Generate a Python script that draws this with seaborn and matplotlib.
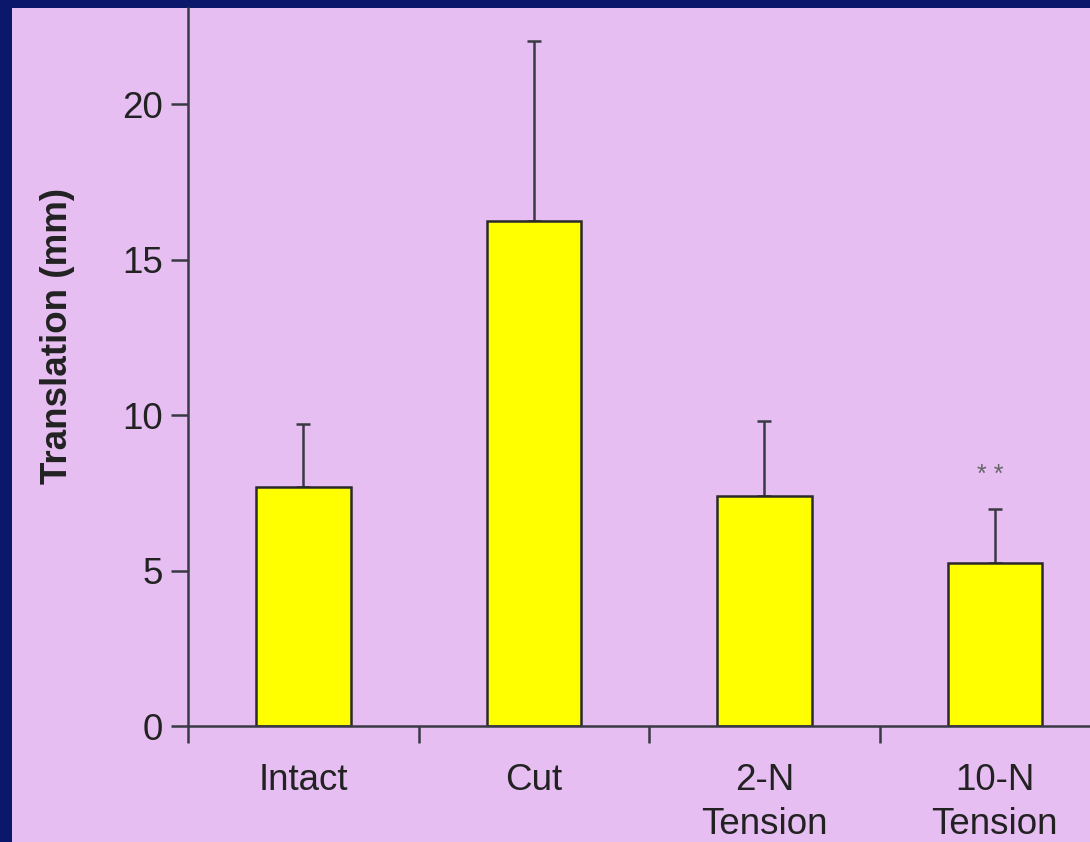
import matplotlib
matplotlib.use("Agg")
import matplotlib.pyplot as plt
import seaborn as sns
import pandas as pd
import numpy as np
from matplotlib.patches import Rectangle

categories = ["Intact", "Cut", "2-N\nTension", "10-N\nTension"]
means = [7.7, 16.25, 7.4, 5.25]
upper_err = [2.03, 5.8, 2.4, 1.73]
yticks = [0, 5, 10, 15, 20]
annotation = "* *"

sns.set_theme(style="ticks")
plt.rcParams['font.family'] = ['Liberation Sans', 'DejaVu Sans']

W, H = 1090, 842
fig = plt.figure(figsize=(W / 100, H / 100), dpi=100)
fig.patch.set_facecolor("#0a176a")
pink = "#e6bef2"
fig.add_artist(Rectangle((12 / W, 0), 1 - 12 / W, 1 - 8 / H, transform=fig.transFigure,
                         facecolor=pink, edgecolor="none", zorder=0))

ax = fig.add_axes([188 / W, 1 - 726 / H, (W - 188) / W, (726 - 8) / H])
ax.set_facecolor("none")

df = pd.DataFrame({"cat": categories, "val": means})
sns.barplot(data=df, x="cat", y="val", ax=ax, color="#ffff00", width=0.41,
            edgecolor="#2a2a2a", linewidth=1.8, saturation=1, errorbar=None)

x = np.arange(len(categories))
ax.errorbar(x, means, yerr=[np.zeros(len(means)), upper_err], fmt="none",
            ecolor="#3a3a44", elinewidth=1.8, capsize=5, capthick=1.8, zorder=0.5)

ax.text(3 - 0.02, 7.7, annotation, ha="center", va="bottom", fontsize=18, color="#666666")

ax.set_yticks(yticks)
ax.set_yticklabels([str(t) for t in yticks])
ax.set_xticks(np.arange(-0.5, 3.6, 1.0))
ax.set_xticklabels([])
ax.set_xticks(x, minor=True)
ax.set_xticklabels(categories, minor=True, linespacing=1.33)
ax.set_xlim(-0.5, (W - 304) / 230.3)
ax.set_ylim(0, 23.1)
ax.tick_params(axis="x", which="minor", length=0, pad=27, labelsize=26.5, labelcolor="#222222")
ax.tick_params(axis="x", which="major", length=12, width=1.8, color="#3a3a44")
ax.tick_params(axis="y", length=12, width=1.8, color="#3a3a44", pad=6, labelsize=26.5, labelcolor="#222222")
ax.set_xlabel("")
ax.set_ylabel("")
for s in ["top", "right"]:
    ax.spines[s].set_visible(False)
for s in ["left", "bottom"]:
    ax.spines[s].set_color("#3a3a44")
    ax.spines[s].set_linewidth(1.8)

fig.text(58 / W, 1 - 336 / H, "Translation (mm)", rotation=90, ha="center", va="center",
         fontsize=26.5, fontweight="bold", color="#222222")

fig.savefig("out.png", dpi=100, facecolor=fig.get_facecolor())
